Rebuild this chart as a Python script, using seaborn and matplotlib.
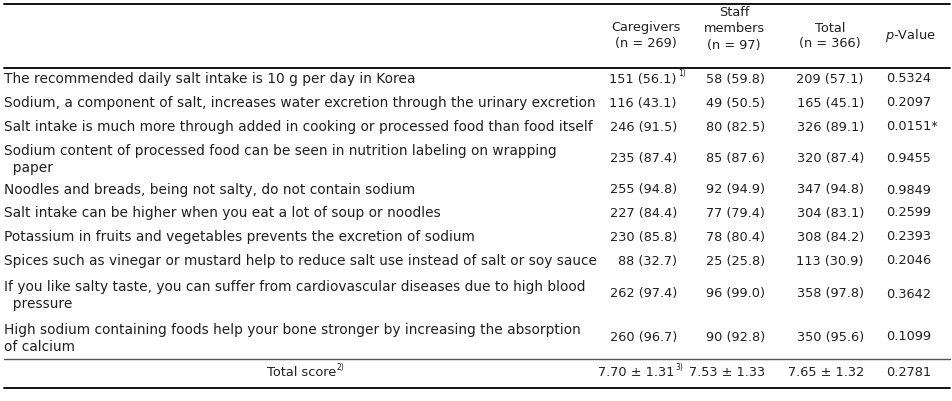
import matplotlib
matplotlib.use("Agg")
import matplotlib.pyplot as plt
import seaborn as sns

# table contents
items = [
    "The recommended daily salt intake is 10 g per day in Korea",
    "Sodium, a component of salt, increases water excretion through the urinary excretion",
    "Salt intake is much more through added in cooking or processed food than food itself",
    "Sodium content of processed food can be seen in nutrition labeling on wrapping\n  paper",
    "Noodles and breads, being not salty, do not contain sodium",
    "Salt intake can be higher when you eat a lot of soup or noodles",
    "Potassium in fruits and vegetables prevents the excretion of sodium",
    "Spices such as vinegar or mustard help to reduce salt use instead of salt or soy sauce",
    "If you like salty taste, you can suffer from cardiovascular diseases due to high blood\n  pressure",
    "High sodium containing foods help your bone stronger by increasing the absorption\nof calcium",
]
caregivers = ["151 (56.1)", "116 (43.1)", "246 (91.5)", "235 (87.4)", "255 (94.8)",
              "227 (84.4)", "230 (85.8)", "88 (32.7)", "262 (97.4)", "260 (96.7)"]
staff = ["58 (59.8)", "49 (50.5)", "80 (82.5)", "85 (87.6)", "92 (94.9)",
         "77 (79.4)", "78 (80.4)", "25 (25.8)", "96 (99.0)", "90 (92.8)"]
total = ["209 (57.1)", "165 (45.1)", "326 (89.1)", "320 (87.4)", "347 (94.8)",
         "304 (83.1)", "308 (84.2)", "113 (30.9)", "358 (97.8)", "350 (95.6)"]
p_values = ["0.5324", "0.2097", "0.0151*", "0.9455", "0.9849",
            "0.2599", "0.2393", "0.2046", "0.3642", "0.1099"]
headers = ["Caregivers\n(n = 269)", "Staff\nmembers\n(n = 97)", "Total\n(n = 366)", "$\\it{p}$-Value"]
score_label = "Total score"
score_values = ["7.70 ± 1.31", "7.53 ± 1.33", "7.65 ± 1.32", "0.2781"]

sns.set_theme(style="white")
plt.rcParams["font.family"] = ["DejaVu Sans"]
txt = "#231f20"
fs = 9.9   # row labels
fv = 9.3   # numbers and headers

fig = plt.figure(figsize=(9.53, 4.01), dpi=100)
ax = fig.add_axes([0, 0, 1, 1])
ax.set_xlim(0, 953)
ax.set_ylim(401, 0)
ax.axis("off")

# rules
ax.plot([4, 950], [4, 4], color="black", lw=1.3)
ax.plot([4, 950], [68, 68], color="black", lw=1.3)
ax.plot([4, 950], [359, 359], color="#555555", lw=1.0)
ax.plot([4, 950], [388, 388], color="black", lw=1.3)

# header
head_x = [646, 734, 830, 910]
head_y = [36, 29, 36, 36]
for h, x, y in zip(headers, head_x, head_y):
    ax.text(x, y, h, ha="center", va="center", fontsize=fv, color=txt, linespacing=1.3)

# body rows
row_y = [77.5, 101.5, 125.5, 157, 188.5, 211.5, 235.5, 259.5, 292.5, 335.5]
kw = dict(va="center_baseline", color=txt)
for i, y in enumerate(row_y):
    ax.text(4, y, items[i], ha="left", fontsize=fs, linespacing=1.25, **kw)
    ax.text(677, y, caregivers[i], ha="right", fontsize=fv, **kw)
    ax.text(765, y, staff[i], ha="right", fontsize=fv, **kw)
    ax.text(864, y, total[i], ha="right", fontsize=fv, **kw)
    ax.text(886, y, p_values[i], ha="left", fontsize=fv, **kw)
ax.text(678, row_y[0] - 5, "1)", ha="left", fontsize=5.5, **kw)

# total score row
ty = 371.5
ax.text(336, ty, score_label, ha="right", fontsize=fv, **kw)
ax.text(337, ty - 5, "2)", ha="left", fontsize=5.5, **kw)
ax.text(674, ty, score_values[0], ha="right", fontsize=fv, **kw)
ax.text(675, ty - 5, "3)", ha="left", fontsize=5.5, **kw)
ax.text(765, ty, score_values[1], ha="right", fontsize=fv, **kw)
ax.text(864, ty, score_values[2], ha="right", fontsize=fv, **kw)
ax.text(886, ty, score_values[3], ha="left", fontsize=fv, **kw)

fig.savefig("out.png", dpi=100, facecolor="white")
